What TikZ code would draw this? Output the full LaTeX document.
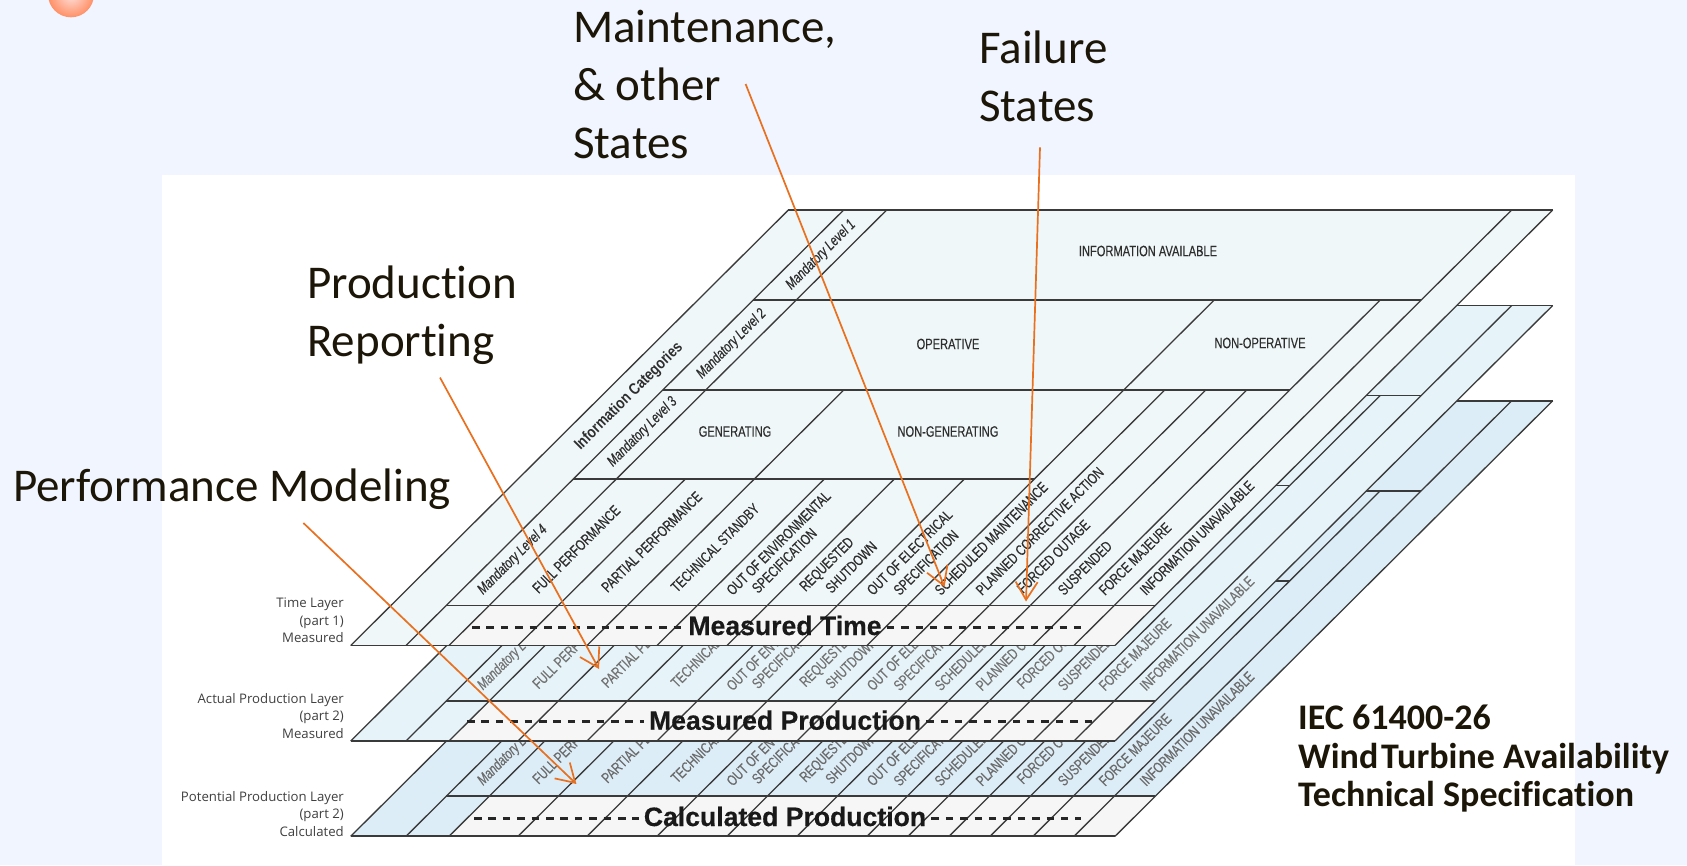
\documentclass[tikz,border=0pt]{standalone}
\usepackage{fontspec}
\usetikzlibrary{arrows.meta}
\setmainfont[Ligatures=NoCommon]{Carlito}
\newfontfamily\condf[FakeStretch=0.74,FakeBold=0.25]{Liberation Sans}
\newfontfamily\condb[FakeStretch=0.83]{Liberation Sans}
\newfontfamily\plainf[FakeBold=0.4]{Liberation Sans}
\newfontfamily\layerf{Open Sans}
\definecolor{pagebg}{HTML}{F1F5FF}
\definecolor{inkline}{HTML}{3A3A3A}
\definecolor{layerA}{HTML}{EFF7F8}
\definecolor{layerB}{HTML}{E6F3F8}
\definecolor{layerC}{HTML}{DCEDF7}
\definecolor{bandfill}{HTML}{F6F6F6}
\definecolor{arrowc}{HTML}{E8701E}
\definecolor{bigink}{HTML}{1C1608}
\def\sk#1#2{({(#1)+(645.5-(#2))*1.005},{#2})}
\tikzset{
  x=1pt,y=-1pt,
  slantline/.style={draw=inkline,line width=1.3pt},
  rowline/.style={draw=inkline,line width=1.8pt},
  dashrow/.style={draw=black!85,line width=3pt,dash pattern=on 7.5pt off 6.9pt},
  celltext/.style={font=\condf\fontsize{15}{15.5}\selectfont,inner sep=0pt,align=center},
  slanttext/.style={celltext,rotate=45,anchor=west,xshift=2pt,yshift=1.5pt},
  leveltext/.style={font=\condf\itshape\fontsize{15}{15.5}\selectfont,inner sep=0pt,rotate=45},
  catstext/.style={font=\condb\bfseries\fontsize{16}{16}\selectfont,inner sep=0pt,rotate=45},
  bandtitle/.style={font=\plainf\bfseries\fontsize{26.6}{26.6}\selectfont,inner sep=0pt,text=black!90},
  layerlabel/.style={font=\layerf\fontsize{13.2}{17.7}\selectfont,inner sep=0pt,align=right,anchor=east,text=black!75},
  bigtext/.style={font=\fontsize{47}{58}\selectfont,inner sep=0pt,align=left,anchor=north west,text=bigink},
  orangearrow/.style={draw=arrowc,line width=1.7pt,-{Straight Barb[length=18pt,width=22pt,line width=1.7pt]}},
}
% #1 fill, #2 text colour, #3 vertical shift, #4 prefix, #5 title, #6 dash left, #7 dash right, #8 dash y
\newcommand{\drawlayer}[8]{%
\begin{scope}[yshift=-#3pt]
  \fill[#1] \sk{350.7}{210} -- \sk{1115}{210} -- \sk{1115}{645.5} -- \sk{350.7}{645.5} -- cycle;
  \fill[bandfill] \sk{449}{605.5} -- \sk{1115}{605.5} -- \sk{1115}{645.5} -- \sk{449}{645.5} -- cycle;
  % slanted dividers
  \foreach \u in {350.7,406,449,1074,1115} {\draw[slantline] \sk{\u}{645.5} -- \sk{\u}{210};}
  \foreach \u in {867,1033} {\draw[slantline] \sk{\u}{645.5} -- \sk{\u}{300};}
  \foreach \u in {587,908,949,990} {\draw[slantline] \sk{\u}{645.5} -- \sk{\u}{390};}
  \foreach \u in {518,657,727,797} {\draw[slantline] \sk{\u}{645.5} -- \sk{\u}{479};}
  % rows
  \draw[rowline] \sk{350.7}{210} -- \sk{1115}{210};
  \draw[rowline] \sk{406}{300} -- \sk{1074}{300};
  \draw[rowline] \sk{406}{390} -- \sk{1033}{390};
  \draw[rowline] \sk{406}{479} -- \sk{867}{479};
  \draw[rowline] \sk{406}{605.5} -- \sk{1115}{605.5};
  \draw[rowline] \sk{350.7}{645.5} -- \sk{1115}{645.5};
  % texts
  \begin{scope}[every node/.append style={text=#2}]
  \node[catstext] (#4cats) at (629,396.5) {Information Categories};
  \node[leveltext] (#4lvA) at (821,255) {Mandatory Level 1};
  \node[leveltext] (#4lvB) at (731.6,344) {Mandatory Level 2};
  \node[leveltext] (#4lvC) at (642.5,432) {Mandatory Level 3};
  \node[leveltext] (#4lvD) at (512.7,560) {Mandatory Level 4};
  \node[celltext] (#4infoa) at (1148,251) {INFORMATION AVAILABLE};
  \node[celltext] (#4oper) at (948,344) {OPERATIVE};
  \node[celltext] (#4nonop) at (1260,343) {NON-OPERATIVE};
  \node[celltext] (#4gen) at (735,431.5) {GENERATING};
  \node[celltext] (#4nongen) at (948,431.5) {NON-GENERATING};
  \node[slanttext] (#4full) at (534.6,593) {FULL PERFORMANCE};
  \node[slanttext] (#4part) at (603.6,592) {PARTIAL PERFORMANCE};
  \node[slanttext] (#4tech) at (673,592) {TECHNICAL STANDBY};
  \node[slanttext] (#4env) at (728.6,595) {OUT OF ENVIRONMENTAL};
  \node[slanttext] (#4envb) at (754,593) {SPECIFICATION};
  \node[slanttext] (#4req) at (802.5,592) {REQUESTED};
  \node[slanttext] (#4reqb) at (827.5,593) {SHUTDOWN};
  \node[slanttext] (#4ele) at (869,595) {OUT OF ELECTRICAL};
  \node[slanttext] (#4eleb) at (895.7,595) {SPECIFICATION};
  \node[slanttext] (#4sch) at (936.8,595) {SCHEDULED MAINTENANCE};
  \node[slanttext] (#4pla) at (978,595) {PLANNED CORRECTIVE ACTION};
  \node[slanttext] (#4for) at (1019,593) {FORCED OUTAGE};
  \node[slanttext] (#4sus) at (1060,595) {SUSPENDED};
  \node[slanttext] (#4maj) at (1101,595) {FORCE MAJEURE};
  \node[slanttext] (#4una) at (1142,595) {INFORMATION UNAVAILABLE};
  \end{scope}
  \node[bandtitle] (#4title) at (785,#8-1.5) {#5};
  \coordinate (#4dl) at (#6,#8);
  \coordinate (#4dr) at (#7,#8);
  \draw[dashrow] (#4dl) -- ([xshift=-5pt,yshift=-1.5pt]#4title.west);
  \draw[dashrow] ([xshift=5pt,yshift=-1.5pt]#4title.east) -- (#4dr);
\end{scope}}
\begin{document}
\begin{tikzpicture}
\useasboundingbox (0,0) rectangle (1687,865);
\clip (0,0) rectangle (1687,865);
\fill[pagebg] (0,0) rectangle (1687,865);
\shade[inner color=orange!10!white!75!red!40,outer color=orange!55!red!60] (71,-5.7) circle[radius=23];
\fill[white] (162,175) rectangle (1575,865);
\drawlayer{layerC}{black!58}{190.8}{c}{Calculated Production}{474}{1081}{627.2}
\drawlayer{layerB}{black!55}{95.5}{b}{Measured Production}{467}{1092}{626.2}
\drawlayer{layerA}{black!82}{0}{a}{Measured Time}{472}{1085}{627}
% layer captions
\node[layerlabel] (capA) at (344,620.5) {Time Layer\\(part 1)\\Measured};
\node[layerlabel] (capB) at (344,716) {Actual Production Layer\\(part 2)\\Measured};
\node[layerlabel] (capC) at (344,814) {Potential Production Layer\\(part 2)\\Calculated};
% big labels
\node[bigtext] (maint) at (573,10) {Maintenance,\\\& other\\States};
\node[bigtext] (fail) at (979,31) {Failure\\States};
\node[bigtext] (prod) at (307,266) {Production\\Reporting};
\node[bigtext] (perf) at (13,469) {Performance Modeling};
\node[font=\bfseries\fontsize{36}{38.4}\selectfont,inner sep=0pt,align=left,anchor=north west,text=bigink] (iec) at (1298,705) {IEC 61400-26\\Wind\hspace{0.08em}Turbine Availability\\Technical Specification};
% arrows
\coordinate (m1) at (745.6,84);  \coordinate (m2) at (944.5,587);
\coordinate (f1) at (1040,147.4); \coordinate (f2) at (1026,601.5);
\coordinate (p1) at (440,377.6);  \coordinate (p2) at (599,669);
\coordinate (q1) at (303.4,523);  \coordinate (q2) at (576.4,784);
\draw[orangearrow] (m1) -- (m2);
\draw[orangearrow] (f1) -- (f2);
\draw[orangearrow] (p1) -- (p2);
\draw[orangearrow] (q1) -- (q2);
\end{tikzpicture}
\end{document}
